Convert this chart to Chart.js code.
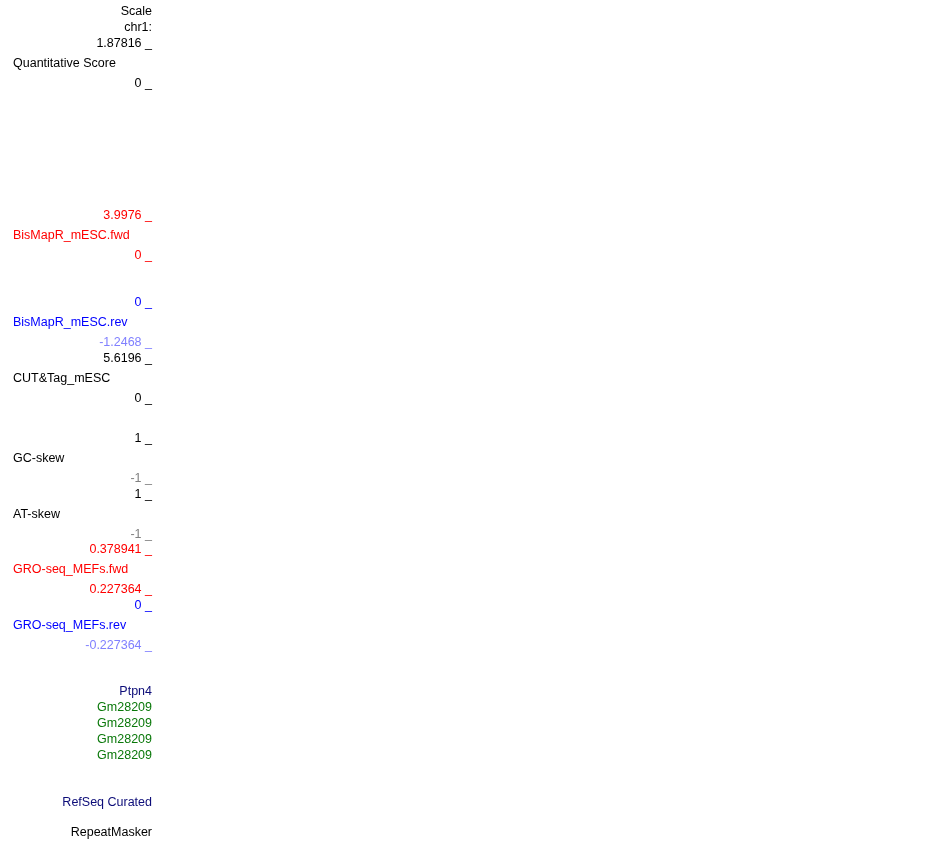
<!DOCTYPE html>
<html>
<head>
<meta charset="utf-8">
<script src="https://cdn.jsdelivr.net/npm/chart.js@4/dist/chart.umd.min.js"></script>
<style>
  html, body { margin: 0; padding: 0; background: #fff; }
  #wrap { position: relative; width: 950px; height: 841px; }
</style>
</head>
<body>
<div id="wrap"><canvas id="c"></canvas></div>
<script>
// ---- data ----
const headerLabels = ['Scale', 'chr1:'];
const trackNames = ['Quantitative Score', 'BisMapR_mESC.fwd', 'BisMapR_mESC.rev', 'CUT&Tag_mESC',
                    'GC-skew', 'AT-skew', 'GRO-seq_MEFs.fwd', 'GRO-seq_MEFs.rev'];
const trackMax = [1.87816, 3.9976, 0, 5.6196, 1, 1, 0.378941, 0];
const trackMin = [0, 0, -1.2468, 0, -1, -1, 0.227364, -0.227364];
const trackValues = [[], [], [], [], [], [], [], []]; // no signal visible in this window
const geneLabels = ['Ptpn4', 'Gm28209', 'Gm28209', 'Gm28209', 'Gm28209'];
const refseqLabels = ['RefSeq Curated'];
const repeatLabels = ['RepeatMasker'];

// ---- styles ----
const RED = '#ff0000', BLUE = '#0000ff', LBLUE = '#8080ff', GREY = '#808080', BLACK = '#000000';
const NAVY = '#0c0c78', GREEN = '#0a780a';
const trackNameColor = [BLACK, RED, BLUE, BLACK, BLACK, BLACK, RED, BLUE];
const trackMaxColor  = [BLACK, RED, BLUE, BLACK, BLACK, BLACK, RED, BLUE];
const trackMinColor  = [BLACK, RED, LBLUE, BLACK, GREY, GREY, RED, LBLUE];
const geneColors = [NAVY, GREEN, GREEN, GREEN, GREEN];
const FONT_SIZE = 12.5;
const FONT_FAMILY = "'Liberation Sans', Arial, Helvetica, sans-serif";

// ---- layout (pixel heights of stacked rows, top to bottom) ----
const LABEL_W = 155;
const TOP_PAD = 4;
const rows = [
  {kind: 'cat', labels: headerLabels, colors: [BLACK, BLACK], h: 32},
  {kind: 'gap', h: 8},
  {kind: 'track', i: 0, h: 40},
  {kind: 'gap', h: 132},
  {kind: 'track', i: 1, h: 40},
  {kind: 'gap', h: 47},
  {kind: 'track', i: 2, h: 40},
  {kind: 'gap', h: 16},
  {kind: 'track', i: 3, h: 40},
  {kind: 'gap', h: 40},
  {kind: 'track', i: 4, h: 40},
  {kind: 'gap', h: 16},
  {kind: 'track', i: 5, h: 40},
  {kind: 'gap', h: 15},
  {kind: 'track', i: 6, h: 40},
  {kind: 'gap', h: 16},
  {kind: 'track', i: 7, h: 40},
  {kind: 'gap', h: 38},
  {kind: 'cat', labels: geneLabels, colors: geneColors, h: 80},
  {kind: 'gap', h: 30},
  {kind: 'cat', labels: refseqLabels, colors: [NAVY], h: 18},
  {kind: 'gap', h: 13},
  {kind: 'cat', labels: repeatLabels, colors: [BLACK], h: 16}
];

Chart.defaults.font.family = FONT_FAMILY;
Chart.defaults.font.size = FONT_SIZE;
Chart.defaults.color = '#000';

const fixFit = (s) => {
  s.width = LABEL_W;
  s.paddingTop = 0; s.paddingBottom = 0; s.paddingLeft = 0; s.paddingRight = 0;
};
const scales = {
  x: {type: 'linear', display: false, min: 0, max: 1}
};
const datasets = [];
rows.forEach((r, k) => {
  const id = 'y' + k;
  const base = {
    position: 'left', stack: 'browser', stackWeight: r.h, weight: rows.length - k,
    grid: {display: false, drawTicks: false}, border: {display: false},
    afterFit: fixFit
  };
  if (r.kind === 'gap') {
    scales[id] = Object.assign(base, {type: 'linear', min: 0, max: 1, ticks: {display: false}});
  } else if (r.kind === 'cat') {
    scales[id] = Object.assign(base, {
      type: 'category', labels: r.labels, offset: true,
      ticks: {autoSkip: false, padding: 3, color: (c) => r.colors[c.index] || BLACK}
    });
  } else {
    const i = r.i;
    r.id = id;
    scales[id] = Object.assign(base, {
      type: 'linear', min: trackMin[i], max: trackMax[i],
      afterBuildTicks: (s) => { s.ticks = [{value: trackMin[i]}, {value: trackMax[i]}]; },
      ticks: {
        autoSkip: false, padding: 3,
        callback: (v) => String(v) + ' _',
        color: (c) => c.index === 1 ? trackMaxColor[i] : trackMinColor[i]
      }
    });
    datasets.push({
      label: trackNames[i], yAxisID: id, xAxisID: 'x',
      data: trackValues[i], borderColor: trackMaxColor[i], backgroundColor: trackMaxColor[i],
      pointRadius: 0, showLine: true
    });
  }
});

const trackNamePlugin = {
  id: 'trackNames',
  afterDraw(chart) {
    const ctx = chart.ctx;
    ctx.save();
    ctx.font = FONT_SIZE + 'px ' + FONT_FAMILY;
    ctx.textAlign = 'left';
    ctx.textBaseline = 'middle';
    rows.forEach((r) => {
      if (r.kind !== 'track') return;
      const s = chart.scales[r.id];
      ctx.fillStyle = trackNameColor[r.i];
      ctx.fillText(trackNames[r.i], 13, (s.top + s.bottom) / 2);
    });
    ctx.restore();
  }
};

new Chart(document.getElementById('c'), {
  type: 'scatter',
  data: {datasets},
  options: {
    responsive: true,
    maintainAspectRatio: false,
    animation: false,
    events: [],
    layout: {padding: {top: TOP_PAD, bottom: 0, left: 0, right: 0}},
    plugins: {legend: {display: false}, tooltip: {enabled: false}},
    scales
  },
  plugins: [trackNamePlugin]
});
</script>
</body>
</html>
